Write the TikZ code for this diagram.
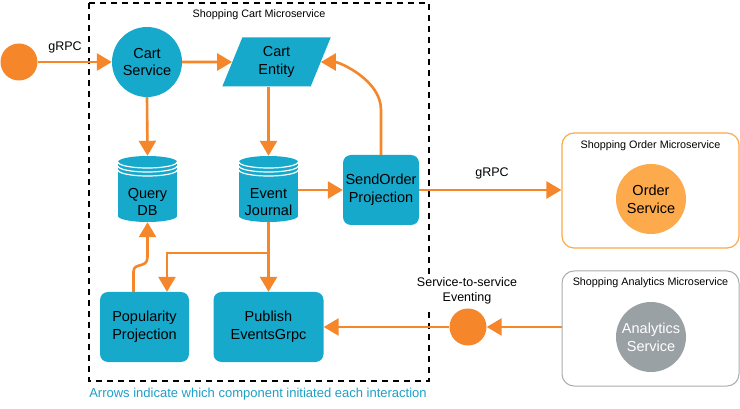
\documentclass[tikz,border=0pt]{standalone}
\usepackage{fontspec}
\setmainfont{Liberation Sans}
\usetikzlibrary{arrows.meta,shapes.geometric,calc}
\definecolor{teal1}{RGB}{22,169,204}
\definecolor{org}{RGB}{245,134,42}
\definecolor{lorg}{RGB}{252,170,76}
\definecolor{gry}{RGB}{154,161,165}
\definecolor{gryb}{RGB}{168,173,177}
\definecolor{capblue}{RGB}{30,160,200}
\newcommand\dbcyl[3]{%
  \fill[teal1] (#2-29.5,162) rectangle (#2+29.5,216);
  \fill[teal1] (#2,162) ellipse[x radius=29.5,y radius=6];
  \fill[teal1] (#2,216) ellipse[x radius=29.5,y radius=6];
  \foreach \dy in {0,4,8}{
    \draw[white,line width=1.2pt] (#2+29.5,162+\dy) arc[start angle=0,end angle=180,x radius=29.5,y radius=6];
  }
  \node[minimum width=59pt,minimum height=66pt,inner sep=0pt] (#1) at (#2,189) {};
  \node[lbl] (#1t) at (#2,202) {#3};
}
\begin{document}
\begin{tikzpicture}[x=1pt,y=-1pt,
  arr/.style={draw=org,line width=2.6pt,-{Triangle[length=15pt,width=17pt]}},
  lbl/.style={font=\fontsize{14.5}{17.7}\selectfont,align=center,text=black,inner sep=0pt},
  svc/.style={circle,fill=teal1,minimum size=70pt,inner sep=0pt,lbl},
  rbox/.style={rectangle,rounded corners=8pt,fill=teal1,lbl},
  dot/.style={circle,fill=org,minimum size=37pt,inner sep=0pt},
  ttl/.style={font=\fontsize{10.8}{13}\selectfont},
  small/.style={font=\fontsize{12.5}{15}\selectfont,align=center}
]
\useasboundingbox (0,0) rectangle (740,409);
\fill[white] (0,0) rectangle (740,409);

% cart microservice frame
\draw[line width=2pt,dash pattern=on 6pt off 5pt] (89,3) rectangle (429,381);
\node[ttl] (tcart) at (259,15) {Shopping Cart Microservice};

% nodes
\node[dot] (src) at (19,62) {};
\node[svc] (cs) at (147,62) {Cart\\Service};
\node[trapezium,trapezium left angle=71,trapezium right angle=109,trapezium stretches=true,
      minimum width=109pt,minimum height=49pt,fill=teal1,lbl] (ce) at (276.5,62) {Cart\\Entity};
\dbcyl{qdb}{147.5}{Query\\DB}
\dbcyl{ej}{268.5}{Event\\Journal}
\node[rbox,minimum width=76pt,minimum height=70pt] (so) at (381,190) {SendOrder\\Projection};
\node[rbox,minimum width=89pt,minimum height=70pt] (pop) at (144.5,327) {Popularity\\Projection};
\node[rbox,minimum width=110pt,minimum height=70pt] (pub) at (268.5,327) {Publish\\EventsGrpc};

% other microservices
\node[draw=lorg,line width=1.2pt,rounded corners=12pt,minimum width=177pt,minimum height=115pt] (obox) at (650.5,190.5) {};
\node[ttl] (tord) at (650.5,146) {Shopping Order Microservice};
\node[circle,fill=lorg,minimum size=70pt,lbl] (os) at (651,199) {Order\\Service};
\node[draw=gryb,line width=1pt,rounded corners=12pt,minimum width=177pt,minimum height=115pt] (abox) at (650.5,328.5) {};
\node[ttl] (tana) at (650.5,283) {Shopping Analytics Microservice};
\node[circle,fill=gry,minimum size=70pt,lbl,text=white] (as) at (651,337) {Analytics\\Service};

% connectors
\draw[arr] (src.east) -- (cs.west);
\node[small] (g1) at (65,47) {gRPC};
\draw[arr] (cs.east) -- (ce.west);
\draw[arr] (cs.south) -- (qdb.north);
\draw[arr] (ej.north |- ce.south) -- (ej.north);
\draw[arr] (ej.east |- so.west) -- (so.west);
\draw[arr] (so.north) -- ++(0,-45) .. controls +(0,-30) and +(18,0) .. (ce.east);
\draw[arr] (so.east) -- (obox.west |- so.east);
\node[small] (g2) at (492,173) {gRPC};
\coordinate (j) at (ej.south |- 0,253);
\draw[arr] (ej.south) -- (pub.north);
\draw[arr] (j) -| ([xshift=22.5pt]pop.north);
\draw[arr] ([xshift=-11pt]pop.north) -- ++(0,-20) .. controls +(0,-10) and +(0,12) .. (qdb.south |- 0,257) -- (qdb.south);

% eventing
\node[small,fill=white,inner sep=3pt] (evl) at (467,291) {Service-to-service\\Eventing};
\node[dot] (ev) at (468,327) {};
\draw[arr] (ev.west) -- (pub.east);
\draw[arr] (abox.west |- ev.east) -- (ev.east);

% caption
\node[font=\fontsize{13}{15}\selectfont,text=capblue] (cap) at (258,394) {Arrows indicate which component initiated each interaction};
\end{tikzpicture}
\end{document}
